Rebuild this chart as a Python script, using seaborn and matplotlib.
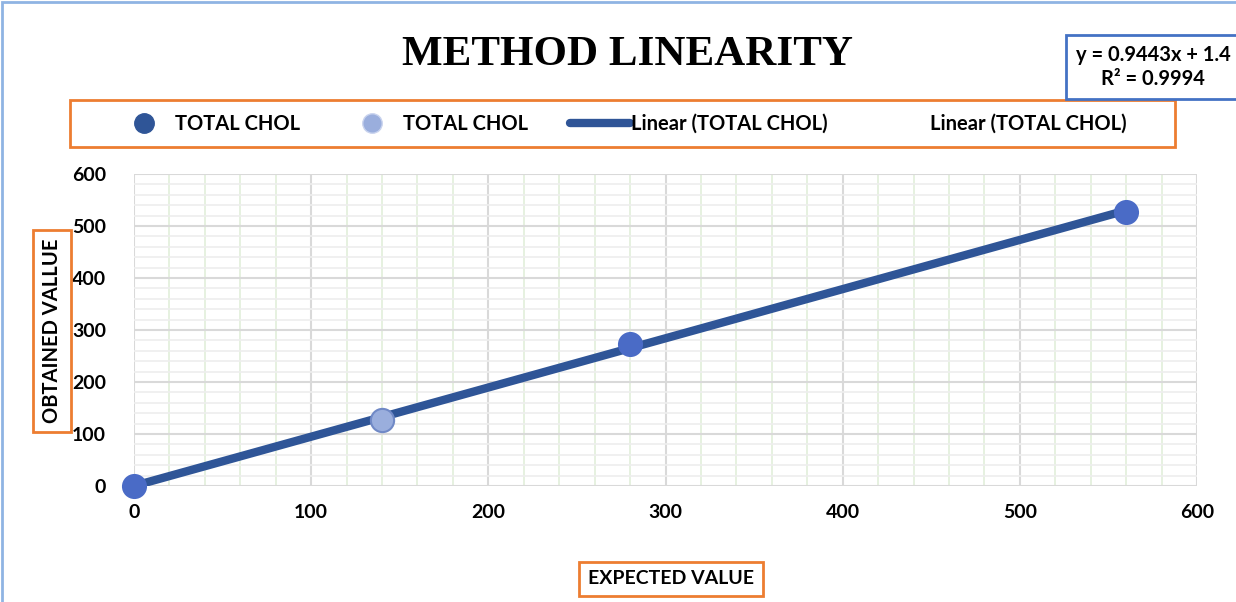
import numpy as np
import pandas as pd
import seaborn as sns
import matplotlib.pyplot as plt
from matplotlib.lines import Line2D
from matplotlib.patches import Rectangle
from matplotlib.ticker import MultipleLocator

sns.set_style("white")
plt.rcParams["font.family"] = ["Lato", "DejaVu Sans"]
plt.rcParams["text.color"] = "black"
plt.rcParams["xtick.color"] = "black"
plt.rcParams["ytick.color"] = "black"

# data
expected = [0, 140, 280, 560]
obtained = [0, 127, 274, 527]
series = ["s1", "s2", "s1", "s1"]
equation = "y = 0.9443x + 1.4"
r_squared = "R\u00b2 = 0.9994"

df = pd.DataFrame({"expected": expected, "obtained": obtained, "series": series})

dark_blue = "#2F5597"
mid_blue = "#4A6BC6"
light_blue = "#9AAEDD"
orange = "#ED7D31"

fig = plt.figure(figsize=(12.36, 6.02), dpi=100)
ax = fig.add_axes([134 / 1236, 1 - 486 / 602, (1197 - 134) / 1236, (486 - 174) / 602])

# trend line over the data range
sns.regplot(data=df, x="expected", y="obtained", scatter=False, ci=None, truncate=True,
            color=dark_blue, line_kws={"linewidth": 6, "solid_capstyle": "butt"}, ax=ax)

# points
sns.scatterplot(data=df[df.series == "s1"], x="expected", y="obtained", s=280,
                color=mid_blue, edgecolor=mid_blue, zorder=3, ax=ax, legend=False)
sns.scatterplot(data=df[df.series == "s2"], x="expected", y="obtained", s=280,
                color=light_blue, edgecolor="#7089C6", linewidth=1.5, zorder=3, ax=ax, legend=False)
for coll in ax.collections:
    coll.set_clip_on(False)

ax.set_xlim(0, 600)
ax.set_ylim(0, 600)
ax.xaxis.set_major_locator(MultipleLocator(100))
ax.yaxis.set_major_locator(MultipleLocator(100))
ax.xaxis.set_minor_locator(MultipleLocator(20))
ax.yaxis.set_minor_locator(MultipleLocator(20))
ax.grid(which="major", color="#D9D9D9", linewidth=1.5)
ax.grid(which="minor", axis="y", color="#EEEEEE", linewidth=1.2)
ax.grid(which="minor", axis="x", color="#E2EFDA", linewidth=1.2)
ax.set_axisbelow(True)
for s in ax.spines.values():
    s.set_visible(False)
ax.tick_params(which="both", length=0)
ax.tick_params(axis="x", pad=13, labelsize=14)
ax.tick_params(axis="y", pad=20, labelsize=14)
for lab in ax.get_xticklabels() + ax.get_yticklabels():
    lab.set_fontweight("bold")
ax.set_xlabel("")
ax.set_ylabel("")

# title
fig.text(628 / 1236, 1 - 55 / 602, "METHOD LINEARITY", ha="center", va="center",
         fontsize=31, fontweight="bold", family="Liberation Serif")

# axis titles in orange boxes
box_kw = dict(boxstyle="square,pad=0.45", facecolor="white", edgecolor=orange, linewidth=2)
fig.text(671 / 1236, 1 - 579 / 602, "EXPECTED VALUE", ha="center", va="center",
         fontsize=14, fontweight="bold", bbox=box_kw)
fig.text(52 / 1236, 1 - 331 / 602, "OBTAINED VALLUE", ha="center", va="center",
         rotation=90, fontsize=14.5, fontweight="bold", bbox=box_kw)

# equation box
fig.text(1153 / 1236, 1 - 67 / 602, equation + "\n" + r_squared, ha="center", va="center",
         fontsize=14.5, fontweight="bold", linespacing=1.25,
         bbox=dict(boxstyle="square,pad=0.5", facecolor="white", edgecolor="#4472C4", linewidth=2))

# legend box + frameless legend
fig.patches.append(Rectangle((70 / 1236, 1 - 147 / 602), 1105 / 1236, 47 / 602,
                             transform=fig.transFigure, facecolor="white",
                             edgecolor=orange, linewidth=2))
handles = [
    Line2D([], [], linestyle="none", marker="o", markersize=14, color=dark_blue),
    Line2D([], [], linestyle="none", marker="o", markersize=14, markerfacecolor=light_blue,
           markeredgecolor="#C9D3EE"),
    Line2D([], [], color=dark_blue, linewidth=6),
    Line2D([], [], color="none"),
]
labels = ["TOTAL CHOL", "TOTAL CHOL", "Linear (TOTAL CHOL)", "Linear (TOTAL CHOL)"]
leg = fig.legend(handles, labels, ncol=4, loc="center left",
                 bbox_to_anchor=(114 / 1236, 1 - 124 / 602), frameon=False,
                 borderaxespad=0, borderpad=0,
                 prop={"weight": "bold", "size": 14.5}, handlelength=3.0, handletextpad=0.05,
                 columnspacing=2.05)

# outer chart border
fig.patches.append(Rectangle((0.002, -0.01), 1.05, 1.006, transform=fig.transFigure,
                             fill=False, edgecolor="#8FB4E3", linewidth=2))

fig.savefig("out.png", dpi=100)
